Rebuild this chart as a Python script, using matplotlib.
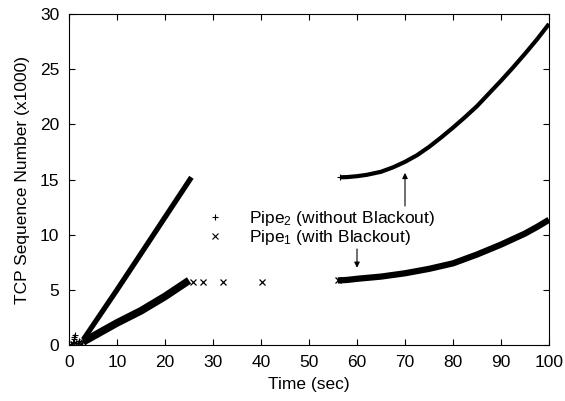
import matplotlib
matplotlib.use("Agg")
import matplotlib.pyplot as plt
from matplotlib.lines import Line2D

plt.rcParams["font.family"] = ["Liberation Sans", "DejaVu Sans"]
plt.rcParams["mathtext.default"] = "regular"
plt.rcParams["font.size"] = 12.5

# Pipe2 (sem blackout): arranque, subida linear, e curva depois dos 56 s
p2_start_t = [0.4, 0.8, 1.0, 1.0, 1.2, 1.5, 2.0]
p2_start_y = [0.1, 0.3, 0.5, 0.7, 0.9, 0.2, 0.4]
p2_lin_t = [3.0, 10.0, 17.0, 25.5]
p2_lin_y = [0.5, 5.0, 9.6, 15.2]
p2_late_t = [56.5, 58, 60, 62, 65, 67.5, 70, 72.5, 75, 77.5,
             80, 82.5, 85, 87.5, 90, 92.5, 95, 97.5, 100]
p2_late_y = [15.2, 15.22, 15.3, 15.42, 15.7, 16.1, 16.6, 17.2, 17.95, 18.8,
             19.7, 20.65, 21.65, 22.8, 23.95, 25.15, 26.4, 27.7, 29.1]

# Pipe1 (com blackout)
p1_start_t = [0.3, 0.8, 1.5, 2.0, 2.5, 3.0]
p1_start_y = [0.0, 0.05, 0.1, 0.15, 0.2, 0.25]
p1_lin_t = [3.0, 10.0, 15.0, 20.0, 25.0]
p1_lin_y = [0.3, 2.0, 3.1, 4.4, 5.85]
p1_gap_t = [25.8, 27.9, 32.1, 40.2]
p1_gap_y = [5.75, 5.75, 5.75, 5.75]
p1_late_t = [56, 58, 60, 62.5, 65, 67.5, 70, 72.5, 75, 77.5,
             80, 82.5, 85, 87.5, 90, 92.5, 95, 97.5, 100]
p1_late_y = [5.85, 5.9, 6.0, 6.1, 6.2, 6.35, 6.5, 6.7, 6.9, 7.15,
             7.4, 7.8, 8.2, 8.65, 9.1, 9.6, 10.1, 10.7, 11.35]

fig = plt.figure(figsize=(5.65, 4.01), dpi=100)
ax = fig.add_axes([69 / 565, 56 / 401, 480 / 565, 331 / 401])

k = "black"
line_kw = dict(color=k, solid_capstyle="butt", solid_joinstyle="round")
# Pipe2
ax.plot(p2_start_t, p2_start_y, "+", color=k, ms=5, mew=0.8)
ax.plot(p2_lin_t, p2_lin_y, "-", lw=3.8, **line_kw)
ax.plot(p2_late_t, p2_late_y, "-", lw=3.0, **line_kw)
ax.plot(p2_late_t[:1], p2_late_y[:1], "+", color=k, ms=5, mew=0.8)

# Pipe1
ax.plot(p1_start_t, p1_start_y, "x", color=k, ms=4, mew=0.8)
ax.plot(p1_lin_t, p1_lin_y, "-", lw=5.5, **line_kw)
ax.plot(p1_gap_t, p1_gap_y, "x", color=k, ms=4.5, mew=0.9)
ax.plot(p1_late_t, p1_late_y, "-", lw=4.5, **line_kw)
ax.plot(p1_late_t[:1], p1_late_y[:1], "x", color=k, ms=4.5, mew=0.9)

# setas
arrow = dict(arrowstyle="-|>", color=k, lw=0.8, mutation_scale=8, shrinkA=0, shrinkB=0)
ax.annotate("", xy=(70, 15.6), xytext=(70, 12.6), arrowprops=arrow)
ax.annotate("", xy=(60, 7.0), xytext=(60, 8.7), arrowprops=arrow)

handles = [
    Line2D([], [], ls="none", marker="+", color=k, ms=5, mew=0.8),
    Line2D([], [], ls="none", marker="x", color=k, ms=4, mew=0.8),
]
labels = ["Pipe$_2$ (without Blackout)", "Pipe$_1$ (with Blackout)"]
ax.legend(handles, labels, loc="upper left", bbox_to_anchor=(0.282, 0.412),
          frameon=False, handlelength=1.2, handletextpad=1.38,
          labelspacing=0.0, borderpad=0, borderaxespad=0)

ax.set_xlim(0, 100)
ax.set_ylim(0, 30)
ax.set_xticks(range(0, 101, 10))
ax.set_yticks(range(0, 31, 5))
ax.tick_params(direction="in", top=True, right=True, length=4, width=0.8, pad=7)
ax.set_xlabel("Time (sec)", labelpad=5)
ax.set_ylabel("TCP Sequence Number (x1000)", labelpad=7)
for s in ax.spines.values():
    s.set_linewidth(0.8)

plt.savefig("out.png", dpi=100)
